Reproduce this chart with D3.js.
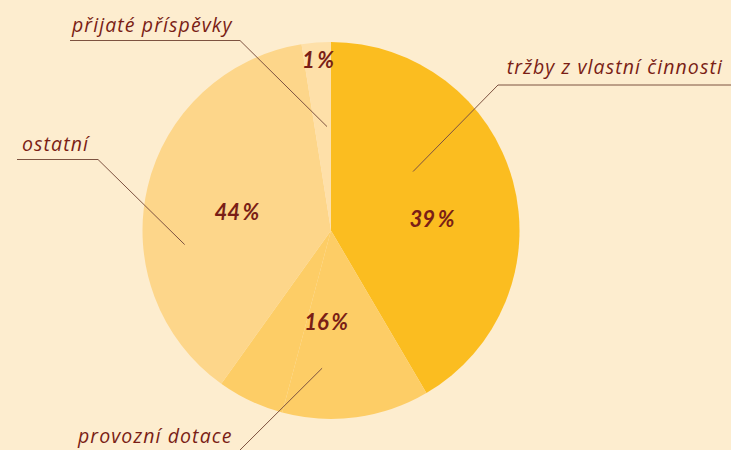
<!DOCTYPE html>
<html>
<head>
<meta charset="utf-8">
<script src="https://cdn.jsdelivr.net/npm/d3@7"></script>
<style>
  html, body { margin: 0; padding: 0; background: #fdedcf; }
  svg { display: block; }
</style>
</head>
<body>
<div id="chart"></div>
<script>
// categories and the printed shares (percent)
var categories = ["tržby z vlastní činnosti", "provozní dotace", "ostatní", "přijaté příspěvky"];
var shares = [39, 16, 44, 1];

// wedge sizes as drawn in the picture (degrees), the dotace wedge is drawn in two parts
var wedgeValues = [149.6, 45.4, 20.6, 135.4, 9.0];
var wedgeCategory = [0, 1, 1, 2, 3];

var colors = ["#fbbd20", "#fdcd66", "#fdd68a", "#fee0a9"];

var w = 731, h = 450;
var cx = 331, cy = 230.5, r = 188.5;

// label placement: [angle in deg, radius] for share text and callout tip
var shareAt = [[83.8, 101.6], [183, 92], [281, 96], [355.6, 171]];
var tipAt = [[54.3, 101], [183.7, 138], [264.5, 147], [357.8, 104]];
var calloutText = [
	{x: 723, y: 74, anchor: "end", lineFrom: [731, 85], elbow: [498, 85]},
	{x: 78, y: 443, anchor: "start", lineFrom: [60, 452], elbow: [238, 452]},
	{x: 22, y: 151, anchor: "start", lineFrom: [17, 159.5], elbow: [98, 159.5]},
	{x: 72, y: 32, anchor: "start", lineFrom: [70, 40.5], elbow: [240, 40.5]}
];

var svg = d3.select("#chart").append("svg")
	.attr("width", w)
	.attr("height", h);

svg.append("rect")
	.attr("width", w).attr("height", h)
	.attr("fill", "#fdedcf");

var pie = d3.pie().sort(null).value(function(d){ return d; });
var arc = d3.arc().innerRadius(0).outerRadius(r);

var g = svg.append("g").attr("transform", "translate(" + cx + "," + cy + ")");

g.selectAll("path.wedge")
	.data(pie(wedgeValues))
	.enter().append("path")
	.attr("class", "wedge")
	.attr("d", arc)
	.attr("fill", function(d, i){ return colors[wedgeCategory[i]]; });

function polar(a) {
	return d3.pointRadial(a[0] * Math.PI / 180, a[1]);
}

// callout lines
calloutText.forEach(function(c, i){
	var tip = polar(tipAt[i]);
	var pts = [c.lineFrom, c.elbow, [cx + tip[0], cy + tip[1]]];
	svg.append("path")
		.attr("d", d3.line()(pts))
		.attr("fill", "none")
		.attr("stroke", "#7d5240")
		.attr("stroke-width", 1);
	svg.append("text")
		.attr("x", c.x)
		.attr("y", c.y)
		.attr("text-anchor", c.anchor)
		.attr("font-family", "'Open Sans', sans-serif")
		.attr("font-style", "italic")
		.attr("font-size", 19.5)
		.attr("letter-spacing", 1.1)
		.attr("fill", "#7a1e16")
		.text(categories[i]);
});

// share labels
shares.forEach(function(s, i){
	var p = polar(shareAt[i]);
	var t = g.append("text")
		.attr("x", p[0])
		.attr("y", p[1])
		.attr("dy", "0.35em")
		.attr("text-anchor", "middle")
		.attr("font-family", "Lato, sans-serif")
		.attr("font-style", "italic")
		.attr("font-weight", "bold")
		.attr("font-size", 22)
		.attr("fill", "#7a1e16");
	t.append("tspan").text(s);
	t.append("tspan").attr("dx", 2.5).text("%");
});
</script>
</body>
</html>
